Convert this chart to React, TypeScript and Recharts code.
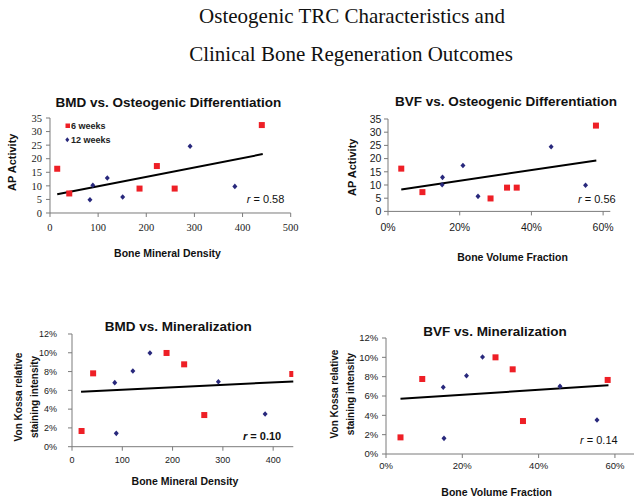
import { ScatterChart, Scatter, XAxis, YAxis, ReferenceLine, Legend } from 'recharts';

// BMD vs. AP activity
const bmdAp6wkX = [15, 40, 186, 222, 259, 440];
const bmdAp6wkY = [16.3, 7.2, 9.0, 17.3, 9.0, 32.4];
const bmdAp12wkX = [83, 89, 119, 151, 291, 384];
const bmdAp12wkY = [4.9, 10.2, 12.9, 5.9, 24.6, 9.8];
const bmdApTrend = [[15, 6.9], [442, 21.7]];

// BVF vs. AP activity
const bvfAp6wkX = [0.037, 0.096, 0.286, 0.332, 0.359, 0.58];
const bvfAp6wkY = [16.2, 7.3, 4.9, 9.0, 9.0, 32.5];
const bvfAp12wkX = [0.151, 0.152, 0.209, 0.251, 0.455, 0.551];
const bvfAp12wkY = [10.1, 12.9, 17.4, 5.7, 24.5, 9.9];
const bvfApTrend = [[0.037, 8.3], [0.581, 19.3]];

// BMD vs. Von Kossa
const bmdVk6wkX = [19, 42, 188, 223, 263, 438];
const bmdVk6wkY = [0.0167, 0.0781, 0.0998, 0.0877, 0.0337, 0.0774];
const bmdVk12wkX = [88, 85, 121, 155, 291, 384];
const bmdVk12wkY = [0.0142, 0.0682, 0.0806, 0.0998, 0.0692, 0.0348];
const bmdVkTrend = [[18, 0.0586], [440, 0.0695]];

// BVF vs. Von Kossa
const bvfVk6wkX = [0.038, 0.095, 0.287, 0.332, 0.359, 0.581];
const bvfVk6wkY = [0.0172, 0.0776, 0.1, 0.0876, 0.0341, 0.0766];
const bvfVk12wkX = [0.15, 0.152, 0.211, 0.253, 0.456, 0.553];
const bvfVk12wkY = [0.069, 0.0162, 0.081, 0.1003, 0.07, 0.0352];
const bvfVkTrend = [[0.038, 0.0572], [0.583, 0.071]];

const apTicks = [0, 5, 10, 15, 20, 25, 30, 35];
const bmdTicks = [0, 100, 200, 300, 400, 500];
const bmdTicksShort = [0, 100, 200, 300, 400];
const bvfTicks = [0, 0.2, 0.4, 0.6];
const vkTicks = [0, 0.02, 0.04, 0.06, 0.08, 0.1, 0.12];

const RED = '#ee1f26';
const BLUE = '#28287c';
const SANS = "'Liberation Sans', Arial, sans-serif";
const SERIF = "'Liberation Serif', 'Times New Roman', serif";

const pts = (xs: number[], ys: number[]) => xs.map((x, i) => ({ x, y: ys[i] }));
const pct = (v: number) => `${Math.round(v * 100)}%`;

const RedSquare = (p: any) => <rect x={p.cx - 3} y={p.cy - 3} width={6} height={6} fill={RED} />;
const BlueDiamond = (p: any) => (
  <polygon
    points={`${p.cx},${p.cy - 2.8} ${p.cx + 2.5},${p.cy} ${p.cx},${p.cy + 2.8} ${p.cx - 2.5},${p.cy}`}
    fill={BLUE}
  />
);

const LegendBox = () => (
  <svg width={60} height={26} style={{ overflow: 'visible' }}>
    <rect x={2.5} y={4.5} width={4.5} height={4.5} fill={RED} />
    <text x={8} y={10} fontFamily={SANS} fontWeight="bold" fontSize={9} fill="#222">6 weeks</text>
    <polygon points="4.3,18.2 6.3,20.7 4.3,23.2 2.3,20.7" fill={BLUE} />
    <text x={8} y={24} fontFamily={SANS} fontWeight="bold" fontSize={9} fill="#222">12 weeks</text>
  </svg>
);

type Box = { left: number; right: number; top: number; bottom: number };

function Panel(props: {
  box: Box;
  xDomain: number[];
  xTicks: number[];
  yDomain: number[];
  yTicks: number[];
  xFmt?: (v: number) => string;
  yFmt?: (v: number) => string;
  font: string;
  fontSize: number;
  xTickMargin: number;
  yTickMargin: number;
  six: { x: number; y: number }[];
  twelve: { x: number; y: number }[];
  trend: number[][];
  legend?: boolean;
}) {
  const { box } = props;
  const PL = 45, PT = 10, PR = 12, PB = 30;
  const w = box.right - box.left + PL + PR;
  const h = box.bottom - box.top + PT + PB;
  const tick = { fill: '#1a1a1a', fontSize: props.fontSize, fontFamily: props.font };
  return (
    <div style={{ position: 'absolute', left: box.left - PL, top: box.top - PT }}>
      <ScatterChart width={w} height={h} margin={{ top: PT, right: PR, bottom: 0, left: 5 }}>
        <XAxis
          type="number"
          dataKey="x"
          domain={props.xDomain}
          ticks={props.xTicks}
          tickFormatter={props.xFmt}
          allowDataOverflow
          interval={0}
          height={PB}
          tickSize={4}
          tickMargin={props.xTickMargin}
          stroke="#7a7a7a"
          tick={tick}
        />
        <YAxis
          type="number"
          dataKey="y"
          domain={props.yDomain}
          ticks={props.yTicks}
          tickFormatter={props.yFmt}
          allowDataOverflow
          interval={0}
          width={40}
          tickSize={4}
          tickMargin={props.yTickMargin}
          stroke="#7a7a7a"
          tick={tick}
        />
        <ReferenceLine
          segment={[
            { x: props.trend[0][0], y: props.trend[0][1] },
            { x: props.trend[1][0], y: props.trend[1][1] },
          ]}
          stroke="#000"
          strokeWidth={2}
          ifOverflow="visible"
        />
        <Scatter name="6 weeks" data={props.six} shape={RedSquare} isAnimationActive={false} />
        <Scatter name="12 weeks" data={props.twelve} shape={BlueDiamond} isAnimationActive={false} />
        {props.legend && (
          <Legend
            layout="vertical"
            align="center"
            verticalAlign="middle"
            wrapperStyle={{ left: 58, top: 10.5, width: 60 }}
            content={() => <LegendBox />}
          />
        )}
      </ScatterChart>
    </div>
  );
}

const YLabel = ({ x, y, text, size }: { x: number; y: number; text: string; size: number }) => (
  <text
    x={x}
    y={y}
    transform={`rotate(-90 ${x} ${y})`}
    textAnchor="middle"
    dominantBaseline="central"
    fontFamily={SANS}
    fontWeight="bold"
    fontSize={size}
    fill="#111"
  >
    {text}
  </text>
);

const RText = ({ x, y, v, bold }: { x: number; y: number; v: string; bold?: boolean }) => (
  <text x={x} y={y} fontFamily={SANS} fontSize={11} fontWeight={bold ? 'bold' : 'normal'} fill="#111">
    <tspan fontStyle="italic">r</tspan> = {v}
  </text>
);

export default function App() {
  const title = { fontFamily: SANS, fontWeight: 'bold', fontSize: 13.5, fill: '#111', textAnchor: 'middle' } as const;
  const xl = { fontFamily: SANS, fontWeight: 'bold', fontSize: 10.5, fill: '#111', textAnchor: 'middle' } as const;
  return (
    <div style={{ position: 'absolute', left: 0, top: 0, width: 639, height: 503, overflow: 'hidden', background: '#fff' }}>
      <Panel
        box={{ left: 50, right: 290.7, top: 118.3, bottom: 213.3 }}
        xDomain={[0, 500]}
        xTicks={bmdTicks}
        yDomain={[0, 35]}
        yTicks={apTicks}
        font={SERIF}
        fontSize={10.5}
        xTickMargin={7}
        yTickMargin={4}
        six={pts(bmdAp6wkX, bmdAp6wkY)}
        twelve={pts(bmdAp12wkX, bmdAp12wkY)}
        trend={bmdApTrend}
        legend
      />
      <Panel
        box={{ left: 388.3, right: 610.6, top: 119.3, bottom: 211.7 }}
        xDomain={[0, 0.62]}
        xTicks={bvfTicks}
        xFmt={pct}
        yDomain={[0, 35]}
        yTicks={apTicks}
        font={SANS}
        fontSize={10.5}
        xTickMargin={8.5}
        yTickMargin={2.7}
        six={pts(bvfAp6wkX, bvfAp6wkY)}
        twelve={pts(bvfAp12wkX, bvfAp12wkY)}
        trend={bvfApTrend}
      />
      <Panel
        box={{ left: 72.3, right: 293.6, top: 334.3, bottom: 447 }}
        xDomain={[0, 440]}
        xTicks={bmdTicksShort}
        yDomain={[0, 0.12]}
        yTicks={vkTicks}
        yFmt={pct}
        font={SANS}
        fontSize={9}
        xTickMargin={5.8}
        yTickMargin={11}
        six={pts(bmdVk6wkX, bmdVk6wkY)}
        twelve={pts(bmdVk12wkX, bmdVk12wkY)}
        trend={bmdVkTrend}
      />
      <Panel
        box={{ left: 386, right: 634, top: 338, bottom: 454 }}
        xDomain={[0, 0.65]}
        xTicks={bvfTicks}
        xFmt={pct}
        yDomain={[0, 0.12]}
        yTicks={vkTicks}
        yFmt={pct}
        font={SANS}
        fontSize={9.5}
        xTickMargin={4.6}
        yTickMargin={3.7}
        six={pts(bvfVk6wkX, bvfVk6wkY)}
        twelve={pts(bvfVk12wkX, bvfVk12wkY)}
        trend={bvfVkTrend}
      />
      <svg width={639} height={503} style={{ position: 'absolute', left: 0, top: 0, pointerEvents: 'none' }}>
        <text x={352} y={23} textAnchor="middle" fontFamily={SERIF} fontSize={21} fill="#111">
          Osteogenic TRC Characteristics and
        </text>
        <text x={351} y={61} textAnchor="middle" fontFamily={SERIF} fontSize={21} fill="#111">
          Clinical Bone Regeneration Outcomes
        </text>

        <text x={168.3} y={106.7} {...title}>BMD vs. Osteogenic Differentiation</text>
        <text x={506} y={105.7} {...title}>BVF vs. Osteogenic Differentiation</text>
        <text x={178.3} y={330.7} {...title}>BMD vs. Mineralization</text>
        <text x={495} y={335.7} {...title}>BVF vs. Mineralization</text>

        <text x={167.5} y={256.7} {...xl}>Bone Mineral Density</text>
        <text x={512.5} y={260.7} {...xl}>Bone Volume Fraction</text>
        <text x={185} y={485} {...xl}>Bone Mineral Density</text>
        <text x={496.7} y={496} {...xl}>Bone Volume Fraction</text>

        <YLabel x={11.7} y={162.3} text="AP Activity" size={11} />
        <YLabel x={352.3} y={167.3} text="AP Activity" size={11} />
        <YLabel x={18} y={397} text="Von Kossa relative" size={10} />
        <YLabel x={34} y={397} text="staining intensity" size={10} />
        <YLabel x={334} y={394} text="Von Kossa relative" size={10} />
        <YLabel x={350} y={394} text="staining intensity" size={10} />

        <RText x={246.7} y={203.3} v="0.58" />
        <RText x={578} y={202.7} v="0.56" />
        <RText x={243} y={440} v="0.10" bold />
        <RText x={580} y={444} v="0.14" />
      </svg>
    </div>
  );
}
